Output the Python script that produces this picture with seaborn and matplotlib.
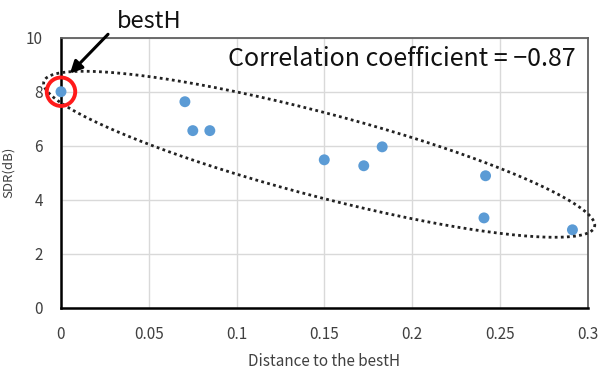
import numpy as np
import pandas as pd
import matplotlib
matplotlib.use("Agg")
import matplotlib.pyplot as plt
import seaborn as sns

# data
distance = [0.0, 0.0706, 0.0751, 0.0848, 0.150, 0.1725, 0.183, 0.2419, 0.241, 0.2914]
sdr = [8.0, 7.63, 6.56, 6.56, 5.48, 5.26, 5.96, 4.89, 3.33, 2.89]
x_ticks = [0, 0.05, 0.1, 0.15, 0.2, 0.25, 0.3]
x_tick_labels = ["0", "0.05", "0.1", "0.15", "0.2", "0.25", "0.3"]
y_ticks = [0, 2, 4, 6, 8, 10]
corr_text = "Correlation coefficient = \u22120.87"

df = pd.DataFrame({"Distance": distance, "SDR": sdr})

sns.set_theme(style="white")
plt.rcParams["font.family"] = ["Noto Sans CJK JP", "DejaVu Sans"]

fig = plt.figure(figsize=(5.98, 3.75), dpi=100)
ax = fig.add_axes([0.102, 0.179, 0.8805, 0.7205])

sns.scatterplot(data=df, x="Distance", y="SDR", ax=ax, color="#5B9BD5",
                s=62, edgecolor="none", zorder=4, clip_on=False)

ax.set_xlim(0, 0.3)
ax.set_ylim(0, 10)
ax.set_xticks(x_ticks)
ax.set_xticklabels(x_tick_labels)
ax.set_yticks(y_ticks)
ax.grid(True, color="#d9d9d9", linewidth=1.0)
ax.set_axisbelow(True)
ax.tick_params(axis="both", length=0, labelsize=11, colors="#404040")
ax.tick_params(axis="x", pad=13)
ax.tick_params(axis="y", pad=13)

for side in ["top", "right"]:
    ax.spines[side].set_color("#606060")
    ax.spines[side].set_linewidth(1.3)
for side in ["left", "bottom"]:
    ax.spines[side].set_color("black")
    ax.spines[side].set_linewidth(1.8)

ax.set_xlabel("Distance to the bestH", fontsize=11, color="#404040", labelpad=7)
ax.set_ylabel("SDR(dB)", fontsize=9.5, color="#404040", labelpad=8)

# dotted ellipse around the points
cx, cy = 0.1471, 5.685
t = np.linspace(0, 2 * np.pi, 400)
ex = cx + 0.1569 * np.cos(t) + 0.00604 * np.sin(t)
ey = cy - 2.685 * np.cos(t) + 1.493 * np.sin(t)
ax.plot(ex, ey, linestyle=(0, (1, 1.2)), color="#222222", linewidth=2.0,
        clip_on=False, zorder=5)

# red circle around bestH point
ax.scatter([distance[0]], [sdr[0]], s=420, facecolors="none",
           edgecolors="#FF1A1A", linewidths=2.8, zorder=6, clip_on=False)

# arrow and bestH label
ax.annotate("", xy=(0.004, 8.6), xytext=(0.0279, 10.2),
            arrowprops=dict(arrowstyle="-|>,head_length=0.6,head_width=0.3",
                            color="black", lw=2.2),
            annotation_clip=False, zorder=7)
ax.text(0.05, 10.37, "bestH", fontsize=17, color="#111111",
        ha="center", va="baseline", clip_on=False)

ax.text(0.293, 9.2, corr_text, fontsize=18, color="#111111",
        ha="right", va="center")

fig.savefig("out.png", dpi=100)
